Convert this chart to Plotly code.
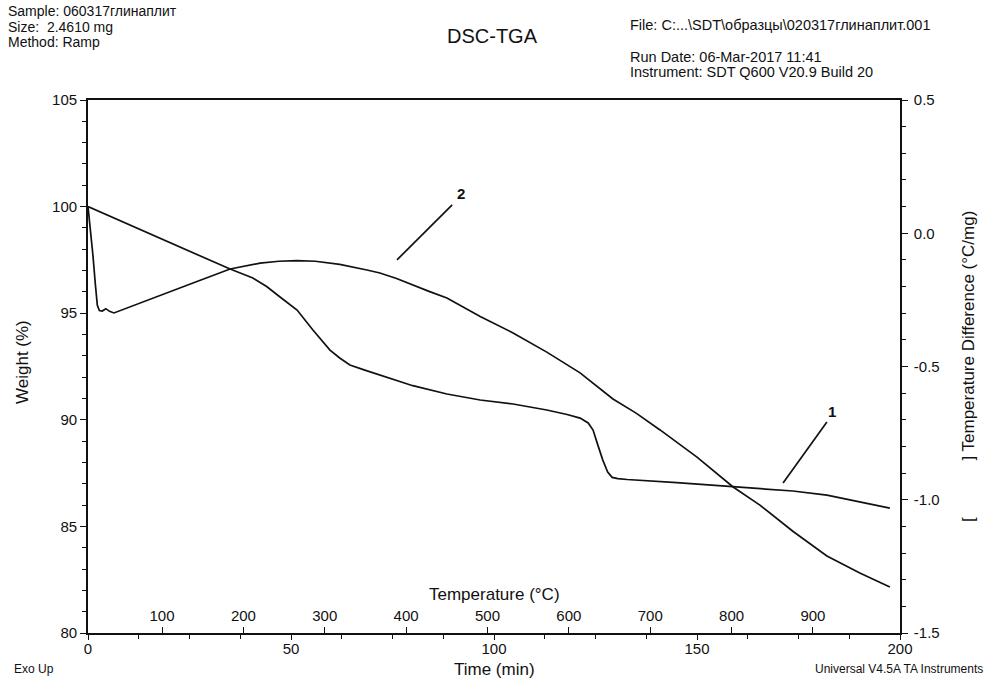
import plotly.graph_objects as go

# Curve 1: TGA weight loss (left axis, %)
tga_time = [0, 10, 20, 30, 35, 40.6, 44, 47.3, 51.5, 55.4, 59.6, 62, 64.5, 68, 72,
            80, 88.4, 96.6, 104.7, 113, 118, 121.2, 123.2, 124.4, 125.6, 126.8,
            128, 129.1, 130.5, 132.8, 145, 158.9, 173.6, 182, 190.1, 197.5]
tga_weight = [100.0, 99.16, 98.32, 97.48, 97.07, 96.65, 96.25, 95.76, 95.15, 94.21,
              93.27, 92.9, 92.57, 92.34, 92.1, 91.6, 91.21, 90.93, 90.74, 90.46,
              90.25, 90.08, 89.85, 89.52, 88.8, 88.11, 87.55, 87.3, 87.24, 87.2,
              87.05, 86.85, 86.66, 86.47, 86.14, 85.86]

# Curve 2: DSC heat flow as temperature difference (right axis, °C/mg)
dsc_time = [0, 0.6, 1.2, 1.8, 2.3, 2.8, 3.5, 4.4, 5.3, 6.4, 12, 18.7, 27, 35, 42.4,
            47, 51.5, 56, 62, 68.7, 71.9, 76, 80, 84, 88.4, 92.5, 96.6, 104.7, 113,
            121.2, 125.4, 127.5, 129.3, 135, 140.9, 150, 158.9, 165.5, 173.6, 182,
            190.1, 197.5]
dsc_value = [0.10, 0.02, -0.08, -0.19, -0.27, -0.29, -0.292, -0.283, -0.293, -0.299,
             -0.266, -0.228, -0.18, -0.134, -0.112, -0.105, -0.103, -0.105, -0.117,
             -0.138, -0.149, -0.17, -0.195, -0.218, -0.243, -0.277, -0.312, -0.374,
             -0.446, -0.524, -0.575, -0.603, -0.622, -0.675, -0.738, -0.84, -0.952,
             -1.02, -1.118, -1.211, -1.275, -1.327]

# Axis ticks
time_ticks = [0, 50, 100, 150, 200]
temp_range = [9, 1007]          # furnace temperature at t = 0 and t = 200 min
temp_ticks = [100, 200, 300, 400, 500, 600, 700, 800, 900]
weight_ticks = [80, 85, 90, 95, 100, 105]
dt_ticks = [-1.5, -1.0, -0.5, 0.0, 0.5]
dt_labels = ["-1.5", "-1.0", "-0.5", "0.0", "0.5"]

FONT = "Liberation Sans, Arial, sans-serif"
BLACK = "#111111"

# plot frame in pixels
L, R, T, B = 88, 900, 100, 633
W, H = 986, 680


def px(x):
    return (x - L) / (R - L)


def py(y):
    return (B - y) / (B - T)


fig = go.Figure()
fig.add_trace(go.Scatter(x=tga_time, y=tga_weight, mode="lines",
                         line=dict(color=BLACK, width=1.7),
                         xaxis="x", yaxis="y", showlegend=False, hoverinfo="skip"))
fig.add_trace(go.Scatter(x=dsc_time, y=dsc_value, mode="lines",
                         line=dict(color=BLACK, width=1.7),
                         xaxis="x", yaxis="y2", showlegend=False, hoverinfo="skip"))
# carrier for the temperature scale so that its axis is drawn
fig.add_trace(go.Scatter(x=temp_range, y=[None, None], mode="lines",
                         xaxis="x2", yaxis="y", showlegend=False, hoverinfo="skip"))

tick_font = dict(family=FONT, size=15, color=BLACK)
axis_common = dict(showgrid=False, zeroline=False, linecolor=BLACK, linewidth=1.7,
                   tickcolor=BLACK, tickfont=tick_font)

fig.update_layout(
    width=W, height=H,
    margin=dict(l=L, r=W - R, t=T, b=H - B, pad=0),
    paper_bgcolor="white", plot_bgcolor="white",
    font=dict(family=FONT, color=BLACK),
    xaxis=dict(range=[0, 200], tickvals=time_ticks, ticks="outside", ticklen=5,
               tickwidth=1.4, showline=True, mirror=True, ticklabelstandoff=-4,
               minor=dict(dtick=12.5, ticks="outside", ticklen=4, tickcolor=BLACK),
               **axis_common),
    # temperature scale sits on the bottom frame line, ticks and labels pointing up
    xaxis2=dict(range=temp_range, overlaying="x", side="top", anchor="free",
                position=0, tickvals=temp_ticks, ticks="outside", ticklen=6,
                tickwidth=1.4, showline=False, **axis_common),
    yaxis=dict(range=[80, 105], tickvals=weight_ticks, ticks="outside", ticklen=6,
               tickwidth=1.4, showline=True,
               minor=dict(dtick=1, ticks="outside", ticklen=4, tickcolor=BLACK),
               **axis_common),
    yaxis2=dict(range=[-1.5, 0.5], overlaying="y", side="right", anchor="x",
                tickvals=dt_ticks, ticktext=dt_labels, ticks="outside", ticklen=6,
                tickwidth=1.4, showline=True, ticklabelstandoff=3,
                minor=dict(dtick=0.1, ticks="outside", ticklen=4, tickcolor=BLACK),
                **axis_common),
)

ann = []


def text(x, y, s, size=14.5, xanchor="left", angle=0):
    ann.append(dict(x=px(x), y=py(y), xref="paper", yref="paper", text=s,
                    showarrow=False, xanchor=xanchor, yanchor="middle",
                    textangle=angle, borderpad=0,
                    font=dict(family=FONT, size=size, color=BLACK)))


# header block
text(7, 11, "Sample: 060317глинаплит", size=14)
text(7, 26.5, "Size:\u00a0\u00a02.4610 mg", size=14)
text(7, 42, "Method: Ramp", size=14)
text(492, 36, "DSC-TGA", size=20, xanchor="center")
text(629, 25, "File: C:...\\SDT\\образцы\\020317глинаплит.001")
text(629, 57, "Run Date: 06-Mar-2017 11:41")
text(629, 72, "Instrument: SDT Q600 V20.9 Build 20")

# axis titles and footer
text(22, 362, "Weight (%)", size=17, xanchor="center", angle=-90)
text(968, 367, "[" + "\u00a0" * 12 + "] Temperature Difference (°C/mg)", size=17,
     xanchor="center", angle=-90)
text(494, 594, "Temperature (°C)", size=17, xanchor="center")
text(494, 669, "Time (min)", size=17, xanchor="center")
text(13, 669, "Exo Up", size=12)
text(984, 669, "Universal V4.5A TA Instruments", size=12, xanchor="right")

# curve labels with leader lines (time / weight coordinates)
ann.append(dict(x=91.9, y=100.6, xref="x", yref="y", text="<b>2</b>", showarrow=False,
                font=dict(family=FONT, size=15, color=BLACK)))
ann.append(dict(x=183.3, y=90.4, xref="x", yref="y", text="<b>1</b>", showarrow=False,
                font=dict(family=FONT, size=15, color=BLACK)))
fig.update_layout(annotations=ann)

fig.add_shape(type="line", xref="x", yref="y", x0=76.1, y0=97.5, x1=89.7, y1=100.08,
              line=dict(color=BLACK, width=1.7))
fig.add_shape(type="line", xref="x", yref="y", x0=171.2, y0=87.04, x1=182.0, y1=89.9,
              line=dict(color=BLACK, width=1.7))

fig.write_html("out.html")
